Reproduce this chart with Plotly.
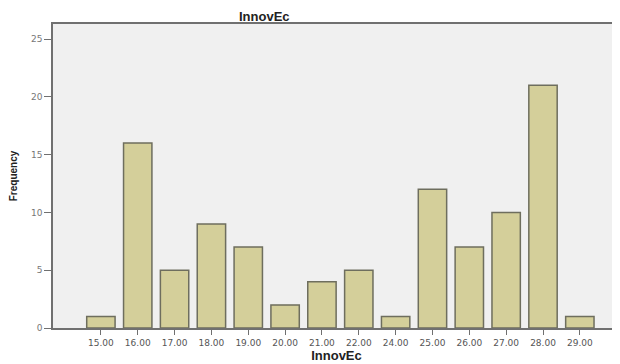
import plotly.graph_objects as go

categories = ["15.00", "16.00", "17.00", "18.00", "19.00", "20.00", "21.00",
              "22.00", "24.00", "25.00", "26.00", "27.00", "28.00", "29.00"]
frequency = [1, 16, 5, 9, 7, 2, 4, 5, 1, 12, 7, 10, 21, 1]
y_ticks = [0, 5, 10, 15, 20, 25]

# The page body has an 8px default margin, so the figure is 8px smaller
# and the margins are reduced accordingly.
W, H = 612, 356
L, R, T, B = 45, 0, 16, 36

fig = go.Figure(go.Bar(
    x=categories, y=frequency,
    marker=dict(color="#d4cf9a", line=dict(color="#6e6e5e", width=1.5)),
))

fig.update_layout(
    width=W, height=H,
    margin=dict(l=L, r=R, t=T, b=B, autoexpand=False),
    paper_bgcolor="white", plot_bgcolor="#f0f0f0",
    bargap=0.23, showlegend=False,
    font=dict(family="DejaVu Sans, sans-serif", color="#555555", size=9),
    annotations=[
        dict(text="<b>InnovEc</b>", x=(256 - L) / (W - L - R), xref="paper",
             y=1, yref="paper", yanchor="bottom", yshift=-1, showarrow=False,
             borderpad=0,
             font=dict(family="Liberation Sans, Arial, sans-serif", size=13, color="#222222")),
    ],
)

fig.update_xaxes(
    type="category", range=[-1.3, 14.09],
    showline=True, linecolor="#707070", linewidth=1.5, mirror=True,
    ticks="outside", ticklen=5, tickcolor="#707070", showgrid=False,
    tickfont=dict(family="DejaVu Sans, sans-serif", size=9, color="#555555"),
    title=dict(text="<b>InnovEc</b>",
               font=dict(family="Liberation Sans, Arial, sans-serif", size=13, color="#222222"),
               standoff=1),
)
fig.update_yaxes(
    range=[0, 26.3], tickvals=y_ticks,
    showline=True, linecolor="#707070", linewidth=1.5, mirror=True,
    ticks="outside", ticklen=7, tickcolor="#707070", showgrid=False, zeroline=False,
    tickfont=dict(family="DejaVu Sans, sans-serif", size=9, color="#777777"),
    title=dict(text="<b>Frequency</b>",
               font=dict(family="Liberation Sans, Arial, sans-serif", size=10, color="#222222"),
               standoff=14),
)

fig.write_html("out.html")
